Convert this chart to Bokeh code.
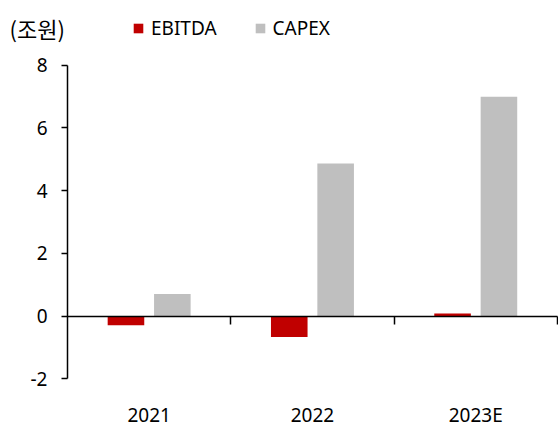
import numpy as np
from bokeh.plotting import figure
from bokeh.models import Range1d, LinearAxis, FixedTicker, Legend, LegendItem, Label, ColumnDataSource
from bokeh.embed import file_html
from bokeh.resources import INLINE

# ---- data ----
categories = ["2021", "2022", "2023E"]
ebitda = [-0.29, -0.67, 0.08]
capex = [0.70, 4.86, 6.99]
y_ticks = [-2, 0, 2, 4, 6, 8]
unit_label = "(조원)"

RED = "#C00000"
GRAY = "#BFBFBF"
FONT = "Noto Sans"
FS = "19px"

W, H = 558, 430
cat_px = 163.3            # pixels per category
axis_x_px = 67            # y axis position in pixels from left
y_top_px = 64.5           # pixel row of the top tick
y_bot_px = 378.3          # pixel row of the bottom tick
y_lo, y_hi = y_ticks[0], y_ticks[-1]
unit_px = (y_bot_px - y_top_px) / (y_hi - y_lo)

centers = np.arange(len(categories)) + 0.5
off = 0.142
bw = 0.224

x0 = -axis_x_px / cat_px
x1 = x0 + W / cat_px
y1 = y_hi + y_top_px / unit_px
y0 = y_lo - (H - y_bot_px) / unit_px

p = figure(width=W, height=H, output_backend="svg", toolbar_location=None,
           x_range=Range1d(x0, x1), y_range=Range1d(y0, y1),
           min_border_left=0, min_border_right=0, min_border_top=0, min_border_bottom=0,
           x_axis_location=None, y_axis_location=None)
p.title_location = None
p.outline_line_color = None
p.grid.visible = False
p.background_fill_color = "white"
p.border_fill_color = "white"

src = ColumnDataSource(dict(xe=centers - off, xc=centers + off, e=ebitda, c=capex))
r1 = p.vbar(x="xe", top="e", bottom=0, width=bw, source=src, fill_color=RED, line_color=None)
r2 = p.vbar(x="xc", top="c", bottom=0, width=bw, source=src, fill_color=GRAY, line_color=None)

# y axis (fixed at x=0)
ya = LinearAxis(ticker=FixedTicker(ticks=y_ticks), fixed_location=0, bounds=(y_lo, y_hi))
ya.major_label_overrides = {t: str(t) for t in y_ticks}
ya.axis_line_color = "black"
ya.axis_line_width = 1.5
ya.major_tick_line_color = "black"
ya.major_tick_line_width = 1.5
ya.major_tick_out = 6
ya.major_tick_in = 0
ya.minor_tick_line_color = None
ya.major_label_standoff = 14
ya.major_label_text_font = FONT
ya.major_label_text_font_size = FS
ya.major_label_text_color = "black"
p.add_layout(ya, "left")

# zero line axis with boundary ticks (no labels)
boundaries = list(range(1, len(categories) + 1))
za = LinearAxis(ticker=FixedTicker(ticks=boundaries), fixed_location=0,
                bounds=(0, len(categories)))
za.major_label_overrides = {b: "" for b in boundaries}
za.axis_line_color = "black"
za.axis_line_width = 1.5
za.major_tick_line_color = "black"
za.major_tick_line_width = 1.5
za.major_tick_out = 8
za.major_tick_in = 0
za.minor_tick_line_color = None
za.major_label_standoff = 0
p.add_layout(za, "below")

# category labels at bottom (below the lowest tick)
xa = LinearAxis(ticker=FixedTicker(ticks=list(centers)), fixed_location=y_lo)
xa.major_label_overrides = {float(c): lab for c, lab in zip(centers, categories)}
xa.axis_line_color = None
xa.major_tick_line_color = None
xa.minor_tick_line_color = None
xa.major_tick_out = 0
xa.major_tick_in = 0
xa.major_label_standoff = 23
xa.major_label_text_font = FONT
xa.major_label_text_font_size = FS
xa.major_label_text_color = "black"
p.add_layout(xa, "below")

legend = Legend(items=[LegendItem(label="EBITDA", renderers=[r1]),
                       LegendItem(label="CAPEX", renderers=[r2])],
                orientation="horizontal", location=(132, H - 41))
legend.glyph_width = 12
legend.glyph_height = 12
legend.label_height = 26
legend.label_standoff = 7
legend.spacing = 37
legend.padding = 0
legend.margin = 0
legend.border_line_color = None
legend.background_fill_alpha = 0
legend.label_text_font = FONT
legend.label_text_font_size = FS
legend.label_text_color = "black"
p.add_layout(legend, "center")

p.add_layout(Label(x=9, y=H - 27.5, x_units="screen", y_units="screen", text=unit_label,
                   text_font="Noto Sans CJK KR", text_font_size="22px", text_baseline="middle",
                   text_color="black"))

open("out.html", "w").write(file_html(p, INLINE))
